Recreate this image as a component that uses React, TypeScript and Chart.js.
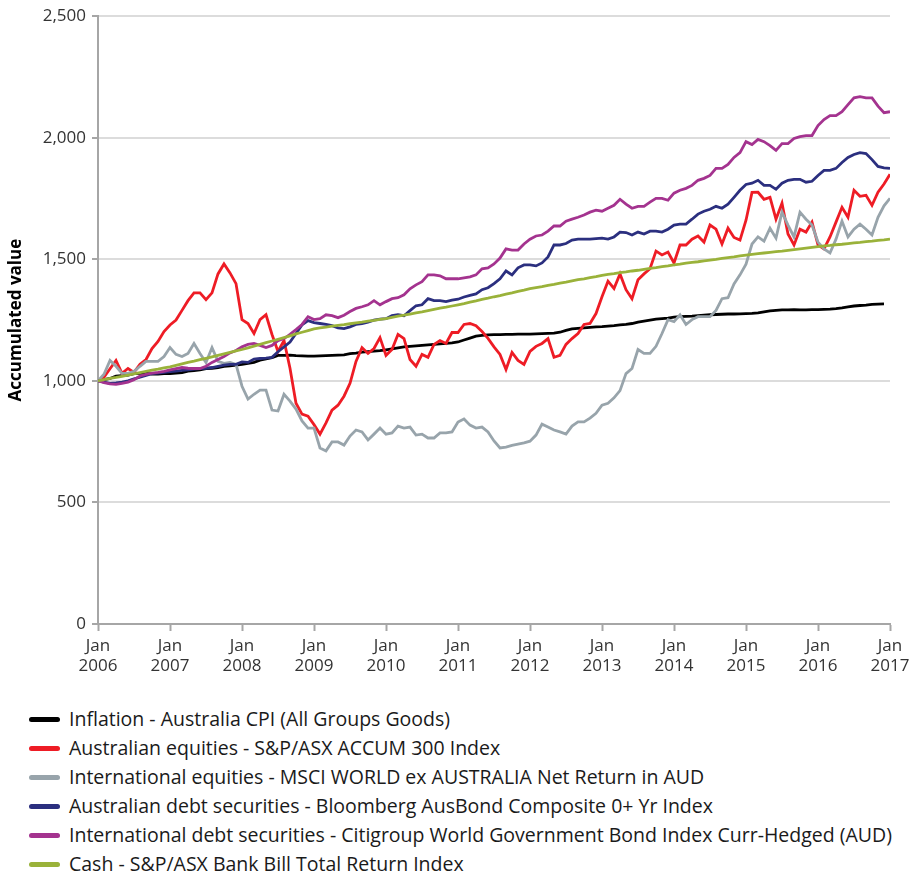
import React, { useEffect, useRef } from "react";
import { Chart, registerables } from "chart.js";

Chart.register(...registerables);

// Month index 0 = Jan 2006 ... 132 = Jan 2017
const yearLabels = ["2006", "2007", "2008", "2009", "2010", "2011", "2012", "2013", "2014", "2015", "2016", "2017"];
const yTickValues = [0, 500, 1000, 1500, 2000, 2500];

const inflation = [
  1000, 1005, 1010, 1020, 1022, 1024, 1030, 1031, 1032, 1028, 1028, 1030,
  1030, 1032, 1034, 1040, 1042, 1045, 1050, 1052, 1055, 1060, 1062, 1065,
  1068, 1072, 1076, 1085, 1090, 1096, 1105, 1105, 1106, 1104, 1103, 1102,
  1102, 1103, 1104, 1105, 1106, 1107, 1112, 1114, 1118, 1120, 1122, 1124,
  1128, 1132, 1136, 1140, 1142, 1144, 1146, 1148, 1150, 1152, 1154, 1156,
  1160, 1168, 1176, 1184, 1187, 1189, 1190, 1190, 1191, 1191, 1192, 1192,
  1192, 1193, 1194, 1195, 1196, 1200, 1208, 1214, 1216, 1218, 1220, 1222,
  1223, 1225, 1227, 1230, 1232, 1236, 1242, 1246, 1250, 1254, 1256, 1258,
  1262, 1264, 1265, 1266, 1268, 1270, 1272, 1273, 1274, 1275, 1275, 1276,
  1277, 1278, 1280, 1284, 1288, 1290, 1292, 1292, 1293, 1292, 1292, 1293,
  1293, 1294, 1295, 1297, 1300, 1304, 1308, 1310, 1312, 1315, 1316, 1317,
  null,
];

const ausEquities = [
  1000, 1015, 1050, 1084, 1031, 1051, 1035, 1068, 1088, 1133, 1162, 1203,
  1230, 1250, 1290, 1330, 1362, 1362, 1334, 1362, 1440, 1481, 1444, 1400,
  1252, 1236, 1195, 1252, 1272, 1191, 1121, 1166, 1052, 908, 863, 855,
  820, 781, 827, 880, 900, 937, 990, 1080, 1137, 1113, 1133, 1178,
  1105, 1129, 1191, 1174, 1088, 1060, 1109, 1097, 1150, 1166, 1154, 1199,
  1199, 1232, 1236, 1227, 1203, 1175, 1140, 1109, 1047, 1117, 1084, 1068,
  1121, 1142, 1154, 1174, 1097, 1105, 1150, 1174, 1195, 1232, 1236, 1277,
  1346, 1410, 1380, 1440, 1375, 1338, 1416, 1440, 1461, 1534, 1518, 1530,
  1485, 1559, 1559, 1583, 1596, 1571, 1641, 1624, 1563, 1628, 1590, 1579,
  1661, 1775, 1776, 1747, 1755, 1665, 1731, 1604, 1559, 1624, 1612, 1653,
  1559, 1543, 1592, 1653, 1714, 1673, 1784, 1759, 1763, 1722, 1776, 1810,
  1850,
];

const intlEquities = [
  1000, 1027, 1084, 1060, 1031, 1031, 1039, 1060, 1080, 1080, 1080, 1100,
  1137, 1109, 1100, 1113, 1154, 1113, 1076, 1137, 1080, 1072, 1076, 1068,
  978, 925, 945, 962, 962, 880, 876, 945, 917, 884, 835, 806,
  806, 724, 712, 749, 749, 736, 773, 798, 790, 757, 781, 806,
  781, 786, 814, 806, 810, 777, 781, 765, 765, 786, 786, 790,
  831, 843, 818, 806, 810, 790, 753, 724, 728, 735, 740, 745,
  752, 777, 822, 810, 798, 790, 781, 814, 831, 831, 847, 867,
  900, 908, 930, 960, 1030, 1051, 1129, 1113, 1113, 1142, 1195, 1252,
  1244, 1272, 1232, 1252, 1264, 1264, 1264, 1290, 1338, 1342, 1399, 1436,
  1480, 1563, 1592, 1575, 1628, 1587, 1694, 1641, 1592, 1694, 1665, 1641,
  1571, 1543, 1526, 1583, 1657, 1592, 1624, 1645, 1624, 1600, 1673, 1720,
  1751,
];

const ausDebt = [
  1000, 995, 990, 992, 995, 1000, 1008, 1015, 1022, 1030, 1032, 1035,
  1038, 1040, 1043, 1045, 1048, 1050, 1052, 1055, 1060, 1065, 1068, 1068,
  1078, 1076, 1090, 1092, 1094, 1097, 1120, 1140, 1160, 1195, 1230, 1248,
  1240, 1236, 1232, 1227, 1218, 1215, 1222, 1232, 1236, 1242, 1250, 1254,
  1256, 1268, 1272, 1268, 1289, 1309, 1313, 1338, 1330, 1330, 1326, 1332,
  1336, 1345, 1352, 1358, 1375, 1383, 1400, 1420, 1452, 1436, 1465, 1477,
  1477, 1473, 1485, 1510, 1559, 1559, 1565, 1579, 1583, 1583, 1583, 1585,
  1587, 1583, 1592, 1612, 1610, 1600, 1612, 1604, 1616, 1616, 1612, 1624,
  1641, 1645, 1645, 1665, 1686, 1698, 1706, 1718, 1710, 1727, 1755, 1784,
  1808, 1813, 1825, 1804, 1804, 1788, 1813, 1825, 1829, 1829, 1817, 1821,
  1845, 1866, 1866, 1874, 1898, 1919, 1931, 1939, 1935, 1910, 1882, 1876,
  1874,
];

const intlDebt = [
  1000, 993, 988, 986, 990, 995, 1005, 1020, 1027, 1032, 1035, 1039,
  1045, 1050, 1055, 1052, 1051, 1051, 1060, 1076, 1088, 1100, 1115, 1125,
  1140, 1150, 1154, 1146, 1137, 1146, 1165, 1174, 1191, 1211, 1232, 1264,
  1252, 1256, 1272, 1268, 1260, 1270, 1285, 1298, 1305, 1313, 1330, 1313,
  1326, 1338, 1342, 1354, 1379, 1395, 1408, 1436, 1436, 1432, 1420, 1420,
  1420, 1424, 1428, 1436, 1461, 1465, 1481, 1505, 1543, 1538, 1538, 1563,
  1583, 1596, 1600, 1616, 1637, 1637, 1657, 1665, 1673, 1682, 1694, 1702,
  1698, 1710, 1722, 1747, 1727, 1710, 1718, 1718, 1735, 1751, 1751, 1743,
  1772, 1784, 1792, 1804, 1825, 1833, 1845, 1874, 1874, 1890, 1919, 1939,
  1984, 1972, 1993, 1984, 1968, 1948, 1976, 1976, 1997, 2005, 2009, 2009,
  2050, 2075, 2091, 2091, 2107, 2136, 2164, 2169, 2164, 2164, 2130, 2103,
  2107,
];

const cash = [
  1000, 1005, 1010, 1014, 1019, 1024, 1029, 1034, 1039, 1044, 1048, 1053,
  1058, 1064, 1070, 1076, 1081, 1087, 1093, 1099, 1105, 1111, 1117, 1123,
  1129, 1136, 1143, 1150, 1157, 1164, 1171, 1178, 1185, 1193, 1200, 1207,
  1214, 1218, 1221, 1225, 1228, 1231, 1235, 1239, 1242, 1246, 1249, 1253,
  1256, 1261, 1266, 1270, 1275, 1280, 1284, 1289, 1294, 1299, 1303, 1308,
  1313, 1318, 1324, 1329, 1335, 1340, 1346, 1351, 1357, 1362, 1368, 1373,
  1379, 1384, 1388, 1393, 1397, 1402, 1406, 1411, 1416, 1420, 1425, 1429,
  1434, 1438, 1441, 1445, 1448, 1452, 1455, 1459, 1463, 1466, 1470, 1473,
  1477, 1480, 1484, 1487, 1490, 1494, 1497, 1500, 1504, 1507, 1510, 1514,
  1517, 1520, 1523, 1526, 1529, 1532, 1534, 1537, 1540, 1543, 1546, 1549,
  1552, 1555, 1557, 1560, 1562, 1565, 1568, 1570, 1573, 1575, 1578, 1580,
  1583,
];

const seriesNames = [
  "Inflation - Australia CPI (All Groups Goods)",
  "Australian equities - S&P/ASX ACCUM 300 Index",
  "International equities - MSCI WORLD ex AUSTRALIA Net Return in AUD",
  "Australian debt securities - Bloomberg AusBond Composite 0+ Yr Index",
  "International debt securities - Citigroup World Government Bond Index Curr-Hedged (AUD)",
  "Cash - S&P/ASX Bank Bill Total Return Index",
];
const seriesData = [inflation, ausEquities, intlEquities, ausDebt, intlDebt, cash];
const seriesColors = ["#000000", "#ee1c25", "#98a4ab", "#2b2f7f", "#a4338f", "#9ab23a"];

const FONT = "'Open Sans', 'DejaVu Sans', sans-serif";

export default function App() {
  const ref = useRef<HTMLCanvasElement>(null);

  useEffect(() => {
    document.body.style.margin = "0";
    const canvas = ref.current;
    if (!canvas) return;
    const chart = new Chart(canvas, {
      type: "line",
      data: {
        datasets: seriesData.map((arr, i) => ({
          label: seriesNames[i],
          data: arr.map((v, m) => ({ x: m, y: v })),
          borderColor: seriesColors[i],
          backgroundColor: seriesColors[i],
          borderWidth: 2.8,
          pointRadius: 0,
          fill: false,
          tension: 0,
          spanGaps: false,
          order: seriesData.length - i,
        })),
      },
      options: {
        animation: false,
        responsive: false,
        maintainAspectRatio: false,
        layout: { padding: { top: 13, right: 32, left: 0, bottom: 0 } },
        plugins: { legend: { display: false }, tooltip: { enabled: false } },
        scales: {
          x: {
            type: "linear",
            min: 0,
            max: 132,
            afterBuildTicks: (s: any) => {
              s.ticks = yearLabels.map((_, i) => ({ value: i * 12 }));
            },
            ticks: {
              autoSkip: false,
              maxRotation: 0,
              padding: 5,
              color: "#333333",
              font: { family: FONT, size: 17 },
              callback: (v: any) => ["Jan", yearLabels[Math.round(Number(v) / 12)]],
            },
            grid: { drawOnChartArea: false, drawTicks: true, tickLength: 7, tickColor: "#a6a6a6", tickWidth: 2 },
            border: { color: "#a6a6a6", width: 2 },
            afterFit: (s: any) => {
              s.height = 76;
            },
          },
          y: {
            min: 0,
            max: 2500,
            afterBuildTicks: (s: any) => {
              s.ticks = yTickValues.map((v) => ({ value: v }));
            },
            ticks: {
              padding: 6,
              color: "#333333",
              font: { family: FONT, size: 17 },
              callback: (v: any) => Number(v).toLocaleString("en-US"),
            },
            grid: { color: "#dcdcdc", lineWidth: 2, tickLength: 6, tickColor: "#a6a6a6", tickWidth: 2 },
            border: { color: "#a6a6a6", width: 2 },
            title: {
              display: true,
              text: "Accumulated value",
              color: "#000000",
              font: { family: FONT, size: 17, weight: "bold" },
              padding: { top: 6, bottom: 0 },
            },
            afterFit: (s: any) => {
              s.width = 98;
            },
          },
        },
      },
    });
    return () => chart.destroy();
  }, []);

  return (
    <div style={{ position: "relative", width: 922, height: 877, fontFamily: FONT }}>
      <canvas ref={ref} width={922} height={700} style={{ position: "absolute", left: 0, top: 0, width: 922, height: 700 }} />
      {seriesNames.map((name, i) => (
        <div
          key={name}
          style={{
            position: "absolute",
            left: 29,
            top: 719 + i * 29 - 14,
            height: 28,
            display: "flex",
            alignItems: "center",
            whiteSpace: "nowrap",
          }}
        >
          <span style={{ display: "inline-block", width: 31, height: 5, borderRadius: 3, background: seriesColors[i] }} />
          <span style={{ marginLeft: 9, fontSize: 19.5, color: "#1a1a1a", lineHeight: "28px" }}>{name}</span>
        </div>
      ))}
    </div>
  );
}
